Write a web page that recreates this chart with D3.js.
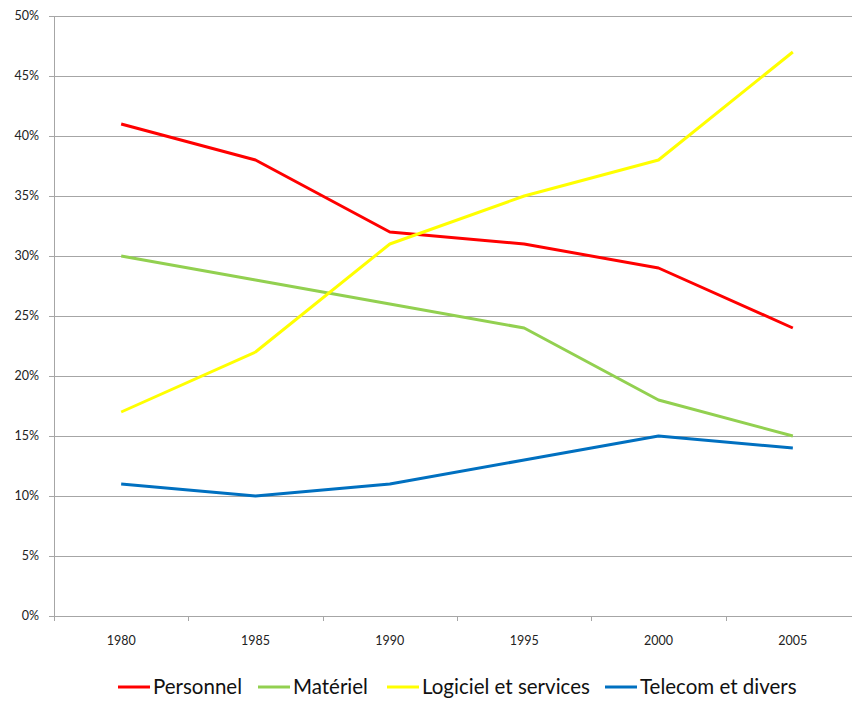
<!DOCTYPE html>
<html><head><meta charset="utf-8">
<script src="https://cdn.jsdelivr.net/npm/d3@7"></script>
<style>body{margin:0;background:#fff;} svg{display:block;font-family:Lato,"Open Sans",sans-serif;}</style>
</head><body>
<svg id="c" width="852" height="702"></svg>
<script>
const years = ["1980","1985","1990","1995","2000","2005"];
const personnel = [41,38,32,31,29,24];
const materiel = [30,28,26,24,18,15];
const logiciel = [17,22,31,35,38,47];
const telecom = [11,10,11,13,15,14];
const seriesNames = ["Personnel","Matériel","Logiciel et services","Telecom et divers"];
const seriesColors = ["#FF0000","#92D050","#FFFF00","#0070C0"];
const yTicks = [0,5,10,15,20,25,30,35,40,45,50];

const series = [personnel, materiel, logiciel, telecom].map((v,i)=>({name:seriesNames[i],color:seriesColors[i],values:v}));
const svg = d3.select("#c");
const L=54, R=860, T=16, B=616;
const x = d3.scaleBand().domain(years).range([L,R]);
const y = d3.scaleLinear().domain([0,50]).range([B,T]);

// gridlines
svg.append("g").selectAll("line").data(yTicks.filter(d=>d>0)).join("line")
  .attr("x1",L-5).attr("x2",R).attr("y1",d=>Math.round(y(d))+0.5).attr("y2",d=>Math.round(y(d))+0.5)
  .attr("stroke","#A6A6A6").attr("stroke-width",1);
// y axis line
svg.append("line").attr("x1",L+0.5).attr("x2",L+0.5).attr("y1",T).attr("y2",B).attr("stroke","#A6A6A6");
// x axis line
svg.append("line").attr("x1",L-5).attr("x2",R).attr("y1",B+0.5).attr("y2",B+0.5).attr("stroke","#A6A6A6");
// x ticks at band boundaries
svg.append("g").selectAll("line").data(years).join("line")
  .attr("x1",d=>Math.round(x(d))+0.5).attr("x2",d=>Math.round(x(d))+0.5)
  .attr("y1",B).attr("y2",B+5).attr("stroke","#A6A6A6");
// y labels
svg.append("g").selectAll("text").data(yTicks).join("text")
  .attr("x",39).attr("y",d=>y(d)).attr("dy","0.35em").attr("text-anchor","end")
  .attr("font-size",12.5).attr("fill","#222").text(d=>d+"%");
// x labels
svg.append("g").selectAll("text").data(years).join("text")
  .attr("x",d=>x(d)+x.bandwidth()/2).attr("y",641).attr("dy","0.35em").attr("text-anchor","middle")
  .attr("font-size",12.5).attr("fill","#222").text(d=>d);
// lines
const line = d3.line().x((d,i)=>x(years[i])+x.bandwidth()/2).y(d=>y(d));
svg.append("g").selectAll("path").data(series).join("path")
  .attr("d",d=>line(d.values)).attr("fill","none").attr("stroke",d=>d.color)
  .attr("stroke-width",3).attr("stroke-linejoin","round");
// legend
const legX = [118,258,387,605];
const lg = svg.append("g").selectAll("g").data(series).join("g")
  .attr("transform",(d,i)=>`translate(${legX[i]},687)`);
lg.append("line").attr("x1",0).attr("x2",32).attr("y1",0).attr("y2",0)
  .attr("stroke",d=>d.color).attr("stroke-width",3);
lg.append("text").attr("x",35).attr("y",7).attr("font-size",20.5)
  .attr("fill","#111").text(d=>d.name);
</script>
</body></html>
